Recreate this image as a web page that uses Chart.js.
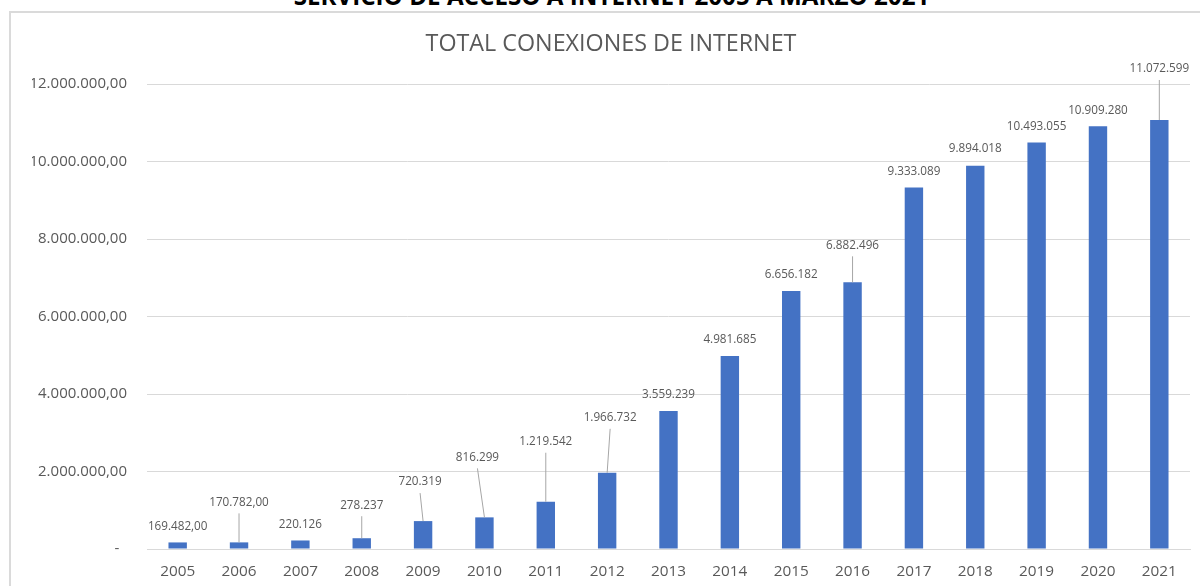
<!DOCTYPE html>
<html lang="es">
  <head>
    <meta charset="UTF-8" />
    <title>Total conexiones de internet</title>
    <script src="https://cdn.jsdelivr.net/npm/chart.js"></script>
    <style>
      html,
      body {
        margin: 0;
        padding: 0;
        width: 1200px;
        height: 586px;
        overflow: hidden;
        background: #ffffff;
        font-family: "Open Sans", "Noto Sans", sans-serif;
      }
      .encabezado {
        position: absolute;
        top: -16.5px;
        left: 0;
        width: 1223px; /* centrado en x ≈ 611 */
        text-align: center;
        font-weight: bold;
        font-size: 24.2px;
        line-height: 24.2px;
        color: #000000;
        white-space: nowrap;
      }
      .marco {
        position: absolute;
        left: 9px;
        top: 11px;
        width: 1220px;
        height: 600px;
        border: 2px solid #dadada;
        box-sizing: border-box;
      }
      .grafico {
        position: absolute;
        left: 0;
        top: 0;
        width: 1200px;
        height: 586px;
      }
    </style>
  </head>
  <body>
    <div class="encabezado">SERVICIO DE ACCESO A INTERNET 2005 A MARZO 2021</div>
    <div class="marco"></div>
    <div class="grafico">
      <canvas id="conexionesChart" width="1200" height="586"></canvas>
    </div>

    <script>
      // Datos: total de conexiones a internet por año
      const anios = [
        "2005", "2006", "2007", "2008", "2009", "2010", "2011", "2012", "2013",
        "2014", "2015", "2016", "2017", "2018", "2019", "2020", "2021",
      ];
      const conexiones = [
        169482, 170782, 220126, 278237, 720319, 816299, 1219542, 1966732, 3559239,
        4981685, 6656182, 6882496, 9333089, 9894018, 10493055, 10909280, 11072599,
      ];
      // decimales mostrados en cada etiqueta
      const decimalesEtiqueta = [2, 2, 0, 0, 0, 0, 0, 0, 0, 0, 0, 0, 0, 0, 0, 0, 0];
      const ejeYMax = 12000000;
      const ejeYPaso = 2000000;

      // desplazamiento de las etiquetas sobre la barra (px); las altas llevan línea guía
      const elevacionEtiqueta = [16, 40, 16, 33, 39, 60, 60, 55, 16, 16, 16, 37, 16, 17, 16, 16, 51];
      const corrimientoEtiqueta = [0, 0, 0, 0, -3, -7, 0, 3, 0, 0, 0, 0, 0, 0, 0, 0, 0];

      const FUENTE = "'Open Sans', 'Noto Sans', sans-serif";
      const GRIS_TEXTO = "#595959";

      // formato 12.000.000,00
      function formatoNumero(valor, decimales) {
        const partes = valor.toFixed(decimales).split(".");
        const entero = partes[0].replace(/\B(?=(\d{3})+(?!\d))/g, ".");
        return partes.length > 1 ? entero + "," + partes[1] : entero;
      }

      // etiquetas de valor con líneas guía
      const etiquetasValor = {
        id: "etiquetasValor",
        afterDatasetsDraw(chart) {
          const ctx = chart.ctx;
          const meta = chart.getDatasetMeta(0);
          ctx.save();
          ctx.font = "11.7px " + FUENTE;
          ctx.textAlign = "center";
          ctx.textBaseline = "middle";
          meta.data.forEach((barra, i) => {
            const lx = barra.x + corrimientoEtiqueta[i];
            const ly = barra.y - elevacionEtiqueta[i];
            if (elevacionEtiqueta[i] > 20) {
              ctx.strokeStyle = "#a6a6a6";
              ctx.lineWidth = 1;
              ctx.beginPath();
              ctx.moveTo(lx, ly + 11);
              ctx.lineTo(barra.x, barra.y);
              ctx.stroke();
            }
            ctx.fillStyle = GRIS_TEXTO;
            ctx.fillText(formatoNumero(conexiones[i], decimalesEtiqueta[i]), lx, ly);
          });
          ctx.restore();
        },
      };

      const ctx = document.getElementById("conexionesChart").getContext("2d");
      new Chart(ctx, {
        type: "bar",
        data: {
          labels: anios,
          datasets: [
            {
              label: "Total conexiones",
              data: conexiones,
              backgroundColor: "#4472c4",
              borderWidth: 0,
              categoryPercentage: 0.3,
              barPercentage: 1,
            },
          ],
        },
        options: {
          responsive: false,
          animation: false,
          layout: {
            padding: { top: 12, right: 10, bottom: 5, left: 32 },
          },
          plugins: {
            legend: { display: false },
            tooltip: { enabled: false },
            title: {
              display: true,
              text: "TOTAL CONEXIONES DE INTERNET",
              color: GRIS_TEXTO,
              font: { family: FUENTE, size: 23.3, weight: "normal" },
              padding: { top: 18.5, bottom: 25.6 },
            },
          },
          scales: {
            x: {
              grid: { display: false, drawTicks: false },
              border: { display: true, color: "#d9d9d9" },
              ticks: {
                color: GRIS_TEXTO,
                font: { family: FUENTE, size: 15.3 },
                padding: 13,
                maxRotation: 0,
              },
              afterFit(eje) {
                eje.height = 32;
              },
            },
            y: {
              min: 0,
              max: ejeYMax,
              border: { display: false },
              grid: { color: "#d9d9d9", lineWidth: 1, drawTicks: false },
              ticks: {
                stepSize: ejeYPaso,
                color: GRIS_TEXTO,
                font: { family: FUENTE, size: 15 },
                padding: 20,
                callback: (v) => (v === 0 ? "-  " : formatoNumero(v, 2)),
              },
              afterFit(eje) {
                eje.width = 115;
              },
            },
          },
        },
        plugins: [etiquetasValor],
      });
    </script>
  </body>
</html>
